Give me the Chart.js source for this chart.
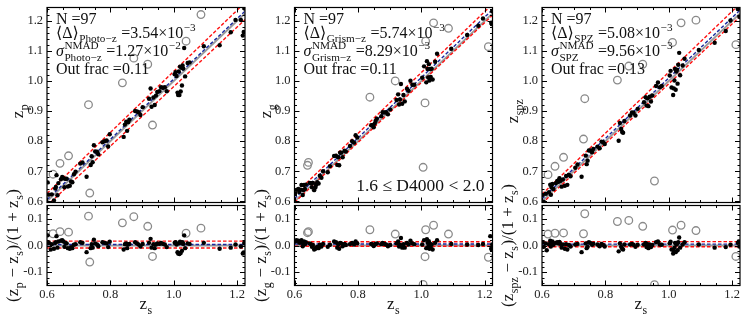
<!DOCTYPE html>
<html>
<head>
<meta charset="utf-8">
<script src="https://cdn.jsdelivr.net/npm/chart.js@4.4.1/dist/chart.umd.min.js"></script>
<style>
body { margin: 0; background: #fff; }
#wrap { position: relative; width: 748px; height: 323px; overflow: hidden; }
#wrap canvas { position: absolute; left: 0; top: 0; }
</style>
</head>
<body>
<div id="wrap"></div>
<script>
// spectroscopic redshifts (shared by all three panels)
var zSpec = [
  0.602, 0.606, 0.612, 0.615, 0.619, 0.622, 0.626, 0.628, 0.630, 0.633,
  0.636, 0.641, 0.644, 0.648, 0.652, 0.655, 0.658, 0.662, 0.666, 0.668,
  0.672, 0.676, 0.680, 0.685, 0.690, 0.705, 0.712, 0.725, 0.731, 0.735,
  0.738, 0.741, 0.744, 0.748, 0.752, 0.758, 0.762, 0.775, 0.782, 0.788,
  0.793, 0.798, 0.838, 0.842, 0.846, 0.850, 0.853, 0.856, 0.860, 0.874,
  0.878, 0.884, 0.889, 0.895, 0.902, 0.918, 0.922, 0.927, 0.930, 0.933,
  0.936, 0.940, 0.944, 0.948, 0.955, 0.960, 0.966, 0.972, 0.978, 1.003,
  1.006, 1.009, 1.012, 1.014, 1.016, 1.018, 1.020, 1.022, 1.024, 1.026,
  1.028, 1.030, 1.033, 1.036, 1.039, 1.044, 1.050, 1.086, 1.095, 1.145,
  1.180, 1.195, 1.212, 1.218, 1.221, 1.223, 1.224
];
// (z - zs)/(1 + zs) for each method
var dPhoto = [
  0.038, 0.010, -0.015, 0.005, 0.044, -0.012, 0.010, 0.012, 0.035, -0.008,
  0.015, 0.052, 0.018, 0.020, 0.015, -0.005, 0.010, 0.008, -0.010, 0.050,
  -0.012, -0.006, -0.010, 0.003, 0.005, 0.012, 0.010, -0.025, 0.110, -0.062,
  -0.010, 0.005, -0.008, 0.022, 0.008, 0.004, -0.003, 0.012, 0.010, 0.008,
  -0.006, 0.014, 0.085, -0.015, 0.005, 0.008, -0.010, 0.004, 0.006, 0.108,
  0.012, 0.008, 0.004, -0.004, 0.006, 0.072, 0.010, 0.025, -0.008, -0.041,
  0.005, -0.010, 0.004, 0.008, 0.006, 0.010, 0.006, 0.004, -0.006, 0.010,
  0.012, 0.004, -0.025, -0.030, 0.008, -0.032, 0.014, -0.028, 0.010, -0.020,
  0.012, 0.006, 0.038, -0.010, 0.046, 0.008, 0.006, 0.065, 0.010, -0.012,
  -0.008, 0.004, -0.004, -0.030, -0.026, 0.010, 0.008
];
var dGrism = [
  0.015, 0.020, 0.018, 0.010, 0.012, 0.020, -0.003, 0.006, 0.015, 0.005,
  0.012, 0.048, 0.052, 0.008, 0.005, -0.005, 0.002, -0.015, -0.012, -0.008,
  -0.005, -0.010, 0.003, -0.004, 0.006, -0.005, 0.003, 0.015, 0.012, -0.008,
  0.005, -0.012, 0.010, 0.008, -0.003, 0.006, 0.002, 0.005, 0.010, 0.004,
  0.015, 0.008, 0.059, 0.006, 0.004, -0.002, 0.003, 0.006, 0.008, 0.005,
  0.010, 0.006, 0.004, -0.003, 0.002, 0.043, 0.008, 0.015, -0.004, 0.003,
  0.028, -0.008, 0.005, -0.008, 0.010, 0.004, 0.018, 0.008, 0.005, 0.004,
  -0.146, 0.020, -0.042, 0.059, -0.010, 0.024, 0.010, -0.005, 0.016, -0.012,
  0.006, -0.008, 0.004, -0.015, 0.076, 0.010, 0.020, 0.043, 0.006, 0.004,
  0.002, 0.006, -0.044, 0.035, -0.012, -0.015, 0.004
];
var dSpz = [
  0.012, -0.005, 0.008, -0.018, 0.043, 0.005, 0.018, -0.004, 0.010, 0.015,
  0.003, 0.046, 0.010, 0.012, 0.008, 0.013, 0.006, -0.008, 0.004, 0.047,
  -0.012, 0.005, -0.015, 0.002, -0.004, 0.004, 0.006, -0.025, 0.044, 0.119,
  0.008, -0.010, -0.005, 0.012, 0.010, 0.003, 0.007, 0.004, -0.003, 0.006,
  0.002, -0.004, 0.090, -0.022, 0.008, -0.005, -0.012, -0.015, 0.004, 0.094,
  0.004, 0.006, 0.003, -0.005, 0.003, 0.072, 0.004, 0.010, -0.006, 0.005,
  -0.010, 0.004, -0.006, 0.002, -0.147, 0.012, 0.015, 0.004, 0.003, 0.008,
  0.014, -0.015, 0.058, -0.030, -0.020, -0.008, 0.010, -0.025, 0.004, 0.006,
  -0.018, 0.012, 0.030, -0.008, 0.076, 0.004, 0.012, 0.056, 0.004, -0.008,
  -0.006, 0.003, -0.041, 0.010, 0.015, -0.004, 0.012
];
var outlierCut = 0.04;

var methodNames = ['Photo\u2212z', 'Grism\u2212z', 'SPZ'];
var axisSubs = ['p', 'g', 'spz'];
var meanD = [3.54e-3, 5.74e-3, 5.08e-3];
var sigmaD = [1.27e-2, 8.29e-3, 9.56e-3];
var meanTxt = ['3.54', '5.74', '5.08'], meanExp = ['\u22123', '\u22123', '\u22123'];
var sigmaTxt = ['1.27', '8.29', '9.56'], sigmaExp = ['\u22122', '\u22123', '\u22123'];
var outFrac = ['0.11', '0.11', '0.13'];
var binLabel = '1.6 \u2264 D4000 < 2.0';

var xRange = [0.6, 1.225], yRangeMain = [0.596, 1.245], yRangeRes = [-0.15, 0.15];
var xTicks = [0.6, 0.8, 1.0, 1.2];
var yTicksMain = [0.6, 0.7, 0.8, 0.9, 1.0, 1.1, 1.2];
var yTicksRes = [-0.1, 0.0, 0.1];

// page layout
var W = 748, H = 323;
var panelLeft = [47, 294.5, 542], panelW = 198;
var mainTop = 7.5, mainBottom = 202.5, resTop = 205.5, resBottom = 285.5;
var SERIF = '"Liberation Serif", "DejaVu Serif", serif';

function fnt(sz, it) { return (it ? 'italic ' : '') + sz + 'px ' + SERIF; }

// text with sub/superscripts, parts = [{t, sub, sup, it}]
function drawParts(ctx, parts, x, y, fs, align) {
  var sfs = fs * 0.7, total = 0, ws = [];
  parts.forEach(function (p) {
    ctx.font = fnt(fs, p.it);
    var w = ctx.measureText(p.t).width, s = 0;
    ctx.font = fnt(sfs);
    if (p.sub) s = ctx.measureText(p.sub).width;
    if (p.sup) s = Math.max(s, ctx.measureText(p.sup).width);
    if (s) s += 1;
    ws.push([w, s]);
    total += w + s;
  });
  var cx = align === 'center' ? x - total / 2 : (align === 'right' ? x - total : x);
  ctx.textAlign = 'left';
  ctx.textBaseline = 'alphabetic';
  parts.forEach(function (p, k) {
    ctx.font = fnt(fs, p.it);
    ctx.fillText(p.t, cx, y);
    cx += ws[k][0];
    ctx.font = fnt(sfs);
    if (p.sub) ctx.fillText(p.sub, cx + 0.5, y + fs * 0.3);
    if (p.sup) ctx.fillText(p.sup, cx + 0.5, y - fs * 0.42);
    cx += ws[k][1];
  });
}

function nearTick(v, list) {
  return list.some(function (t) { return Math.abs(t - v) < 1e-6; });
}

function frameAndTicks(chart, yTicks, yMinor, showX) {
  var ctx = chart.ctx, a = chart.chartArea, xs = chart.scales.x, ys = chart.scales.y;
  ctx.save();
  ctx.strokeStyle = '#000';
  ctx.lineWidth = 1;
  var k, v, p, len;
  ctx.beginPath();
  for (k = 0; ; k++) {
    v = xRange[0] + k * 0.05;
    if (v > xRange[1] + 1e-9) break;
    p = Math.round(xs.getPixelForValue(v)) + 0.5;
    len = nearTick(v, xTicks) ? 5 : 2.5;
    ctx.moveTo(p, a.bottom); ctx.lineTo(p, a.bottom - len);
    ctx.moveTo(p, a.top); ctx.lineTo(p, a.top + len);
  }
  var y0 = Math.ceil(ys.min / yMinor - 1e-6) * yMinor;
  for (k = 0; ; k++) {
    v = y0 + k * yMinor;
    if (v > ys.max + 1e-9) break;
    p = Math.round(ys.getPixelForValue(v)) + 0.5;
    len = nearTick(v, yTicks) ? 5 : 2.5;
    ctx.moveTo(a.left, p); ctx.lineTo(a.left + len, p);
    ctx.moveTo(a.right, p); ctx.lineTo(a.right - len, p);
  }
  ctx.stroke();
  ctx.lineWidth = 1.2;
  ctx.strokeRect(a.left, a.top, a.right - a.left, a.bottom - a.top);

  ctx.fillStyle = '#222';
  ctx.font = fnt(12.5);
  ctx.textAlign = 'right';
  ctx.textBaseline = 'middle';
  yTicks.forEach(function (t) {
    ctx.fillText(t.toFixed(1), a.left - 4, ys.getPixelForValue(t));
  });
  if (showX) {
    ctx.textAlign = 'center';
    xTicks.forEach(function (t) {
      ctx.fillText(t.toFixed(1), xs.getPixelForValue(t), a.bottom + 9);
    });
  }
  ctx.restore();
}

function makeChart(i, isRes) {
  var canvas = document.createElement('canvas');
  canvas.width = W; canvas.height = H;
  document.getElementById('wrap').appendChild(canvas);
  var dz = [dPhoto, dGrism, dSpz][i];
  var mu = meanD[i], sg = sigmaD[i];
  var inl = [], outl = [];
  zSpec.forEach(function (zs, k) {
    var pt = { x: zs, y: isRes ? dz[k] : zs + dz[k] * (1 + zs) };
    (Math.abs(dz[k]) > outlierCut ? outl : inl).push(pt);
  });
  function band(off) {
    return xRange.map(function (x) { return { x: x, y: isRes ? off : x + off * (1 + x) }; });
  }
  function lineSet(data, color, dash, width, order) {
    return { data: data, showLine: true, borderColor: color, borderDash: dash, borderWidth: width,
      pointRadius: 0, fill: false, clip: 0, order: order };
  }
  var L = panelLeft[i];
  var top = isRes ? resTop : mainTop, bottom = isRes ? resBottom : mainBottom;
  var yr = isRes ? yRangeRes : yRangeMain;

  var decor = {
    id: 'decor' + i + (isRes ? 'r' : 'm'),
    afterDraw: function (chart) {
      var ctx = chart.ctx, a = chart.chartArea;
      frameAndTicks(chart, isRes ? yTicksRes : yTicksMain, 0.02, isRes);
      ctx.save();
      ctx.fillStyle = '#111';
      var cy = (a.top + a.bottom) / 2;
      ctx.translate(L - (isRes ? 29 : 24), cy + (isRes ? 0 : 6));
      ctx.rotate(-Math.PI / 2);
      if (isRes) {
        drawParts(ctx, [{ t: '(z', sub: axisSubs[i] }, { t: ' \u2212 z', sub: 's' },
          { t: ')/(1 + z', sub: 's' }, { t: ')' }], 0, 0, 17, 'center');
      } else {
        drawParts(ctx, [{ t: 'z', sub: axisSubs[i] }], 0, 0, 17, 'center');
      }
      ctx.restore();
      ctx.save();
      ctx.fillStyle = '#111';
      if (isRes) {
        drawParts(ctx, [{ t: 'z', sub: 's' }], (a.left + a.right) / 2, 309, 17, 'center');
      } else {
        var tx = L + 9, fs = 16;
        drawParts(ctx, [{ t: 'N =' + zSpec.length }], tx, 23.5, fs, 'left');
        drawParts(ctx, [{ t: '\u27e8\u0394\u27e9', sub: methodNames[i] },
          { t: ' =' + meanTxt[i] + '\u00d710', sup: meanExp[i] }], tx, 37.5, fs, 'left');
        drawParts(ctx, [{ t: '\u03c3', it: true, sup: 'NMAD', sub: methodNames[i] },
          { t: ' =' + sigmaTxt[i] + '\u00d710', sup: sigmaExp[i] }], tx, 56, fs, 'left');
        drawParts(ctx, [{ t: 'Out frac =' + outFrac[i] }], tx, 74, fs, 'left');
        if (i === 1) {
          drawParts(ctx, [{ t: binLabel }], a.right - 8, 191, 17.5, 'right');
        }
      }
      ctx.restore();
    }
  };

  return new Chart(canvas, {
    type: 'scatter',
    data: {
      datasets: [
        { data: inl, pointRadius: 2.2, pointBackgroundColor: '#000', pointBorderWidth: 0, clip: 0, order: 0 },
        { data: outl, pointRadius: 3.8, pointBackgroundColor: 'rgba(0,0,0,0)', pointBorderColor: '#8a8a8a',
          pointBorderWidth: 1.3, clip: 0, order: 1 },
        lineSet(band(mu + sg), '#ff1010', [3.5, 2], 1.4, 2),
        lineSet(band(mu - sg), '#ff1010', [3.5, 2], 1.4, 3),
        lineSet(band(mu), '#1a2a9e', [3.5, 2], 1.4, 4),
        lineSet(band(0), '#9a9a9a', [], 1.8, 5)
      ]
    },
    options: {
      responsive: false,
      animation: false,
      events: [],
      layout: { padding: { left: L, right: W - L - panelW, top: top, bottom: H - bottom } },
      plugins: { legend: { display: false }, tooltip: { enabled: false } },
      scales: {
        x: { type: 'linear', min: xRange[0], max: xRange[1], display: false },
        y: { type: 'linear', min: yr[0], max: yr[1], display: false }
      }
    },
    plugins: [decor]
  });
}

for (var i = 0; i < 3; i++) {
  makeChart(i, false);
  makeChart(i, true);
}
</script>
</body>
</html>
